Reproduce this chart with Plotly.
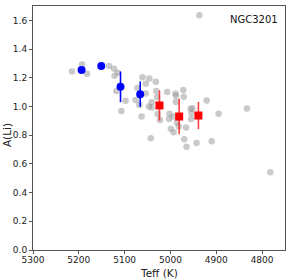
import plotly.graph_objects as go

# Gray comparison stars
gray_teff = [5215, 5193, 5182, 5134, 5123, 5115, 5122, 5118, 5098, 5107,
             5076, 5072, 5068, 5063, 5061, 5046, 5054, 5054, 5047, 5041,
             5041, 5032, 5031, 5029, 5028, 5023, 5007, 4989, 4988, 4988,
             4972, 4971, 5002, 5003, 4994, 4986, 4999, 4993, 4982, 4966,
             4970, 4965, 4943, 4910, 5043, 4956, 4952, 4955, 4954, 4921,
             4895, 4833, 4782, 4937]
gray_ali = [1.244, 1.293, 1.228, 1.282, 1.263, 1.235, 1.214, 1.108, 1.040, 0.968,
            1.045, 1.128, 1.010, 0.930, 1.203, 1.195, 1.158, 1.091, 1.000, 1.030,
            0.993, 1.172, 1.108, 1.066, 0.947, 0.905, 1.100, 1.090, 1.075, 1.031,
            1.114, 1.068, 0.949, 0.912, 0.930, 0.888, 0.844, 0.821, 0.860, 0.853,
            0.772, 0.719, 0.745, 0.758, 0.778, 0.984, 0.988, 0.912, 0.954, 1.042,
            0.949, 0.986, 0.542, 1.635]

# Blue binned points
blue_teff = [5194, 5151, 5109, 5066]
blue_ali = [1.254, 1.282, 1.137, 1.086]
blue_err = [0.015, 0.005, 0.107, 0.088]

# Red binned points
red_teff = [5024, 4981, 4939]
red_ali = [1.007, 0.930, 0.937]
red_err = [0.105, 0.124, 0.095]

xticks = [5300, 5200, 5100, 5000, 4900, 4800]
yticks = [0.0, 0.2, 0.4, 0.6, 0.8, 1.0, 1.2, 1.4, 1.6]

fig = go.Figure()
fig.add_trace(go.Scatter(x=gray_teff, y=gray_ali, mode="markers",
                         marker=dict(size=6.5, color="rgba(150,150,150,0.5)", line=dict(width=0)),
                         showlegend=False))
fig.add_trace(go.Scatter(x=blue_teff, y=blue_ali, mode="markers",
                         marker=dict(size=8, color="#0000ff", symbol="circle", line=dict(width=0)),
                         error_y=dict(type="data", array=blue_err, color="#0000ff", thickness=1.6, width=0),
                         showlegend=False))
fig.add_trace(go.Scatter(x=red_teff, y=red_ali, mode="markers",
                         marker=dict(size=8, color="#ff0000", symbol="square", line=dict(width=0)),
                         error_y=dict(type="data", array=red_err, color="rgba(255,0,0,0.75)", thickness=1.6, width=0),
                         showlegend=False))

axis_common = dict(showgrid=False, zeroline=False, showline=True, linecolor="#555555",
                   linewidth=1, mirror=True, ticks="outside", ticklen=3, tickwidth=1,
                   tickcolor="#555555", automargin=False,
                   tickfont=dict(family="DejaVu Sans", size=9, color="#222222"))

fig.update_xaxes(range=[5300, 4750], tickvals=xticks, ticktext=[str(v) for v in xticks],
                 ticklabelstandoff=-2, **axis_common)
fig.update_yaxes(range=[0, 1.7], tickvals=yticks, ticktext=[f"{v:.1f}" for v in yticks],
                 **axis_common)

title_font = dict(family="DejaVu Sans", size=10.5, color="#222222")
fig.add_annotation(text="Teff (K)", xref="paper", yref="paper", x=0.5, y=-0.093,
                   xanchor="center", yanchor="middle", showarrow=False, font=title_font)
fig.add_annotation(text="A(Li)", xref="paper", yref="paper", x=-0.1, y=0.47,
                   xanchor="center", yanchor="middle", textangle=-90, showarrow=False, font=title_font)
fig.add_annotation(text="NGC3201", xref="paper", yref="paper", x=0.98, y=0.975,
                   xanchor="right", yanchor="top", showarrow=False,
                   font=dict(family="DejaVu Sans", size=10, color="#111111"))

fig.update_layout(width=291, height=279, margin=dict(l=33, r=6, t=6, b=29, autoexpand=False),
                  plot_bgcolor="white", paper_bgcolor="white")

fig.write_html("out.html", config={"displayModeBar": False, "staticPlot": True},
               post_script="document.body.style.margin='0';document.body.style.overflow='hidden';")
